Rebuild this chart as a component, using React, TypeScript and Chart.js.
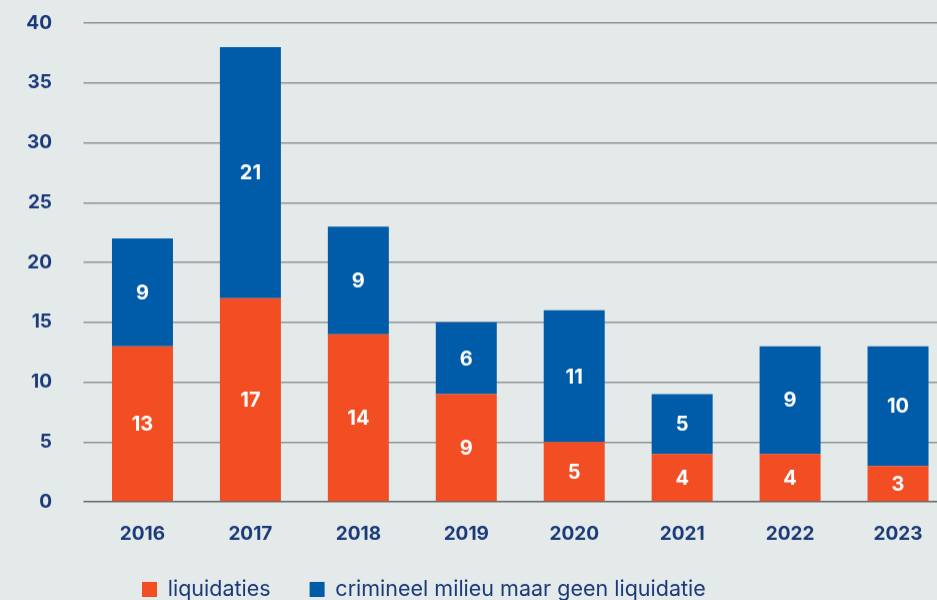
import React, { useEffect, useRef } from "react";
import { Chart, registerables } from "chart.js";

Chart.register(...registerables);

const categories = ["2016", "2017", "2018", "2019", "2020", "2021", "2022", "2023"];
const liquidaties = [13, 17, 14, 9, 5, 4, 4, 3];
const crimineelMilieu = [9, 21, 9, 6, 11, 5, 9, 10];
const seriesNames = ["liquidaties", "crimineel milieu maar geen liquidatie"];
const yTicks = [0, 5, 10, 15, 20, 25, 30, 35, 40];

const ORANGE = "#f24d23";
const BLUE = "#005ca9";
const NAVY = "#1b3a7a";
const BG = "#e4eaea";
const FONT = "Inter, 'Noto Sans', sans-serif";
const LEGEND_PAD = 39;
const LEGEND_FONT = 21.5;

const valueLabels = {
  id: "valueLabels",
  afterDatasetsDraw(chart: any) {
    const ctx = chart.ctx;
    ctx.save();
    ctx.fillStyle = "#ffffff";
    ctx.font = `700 20px ${FONT}`;
    ctx.textAlign = "center";
    ctx.textBaseline = "middle";
    chart.data.datasets.forEach((ds: any, di: number) => {
      const meta = chart.getDatasetMeta(di);
      meta.data.forEach((el: any, i: number) => {
        const { x, y, base } = el.getProps(["x", "y", "base"], true);
        ctx.fillText(String(ds.data[i]), x, (y + base) / 2 + 1);
      });
    });
    ctx.restore();
  },
};

const legendPos = {
  id: "legendPos",
  afterLayout(chart: any) {
    const lg = chart.legend;
    if (!lg) return;
    const w = lg.width;
    const h = lg.height;
    lg.left = 142 - LEGEND_PAD;
    lg.right = lg.left + w;
    lg.top = 581 - (LEGEND_FONT - 15) / 2 - LEGEND_PAD;
    lg.bottom = lg.top + h;
  },
};

export default function App() {
  const ref = useRef<HTMLCanvasElement | null>(null);

  useEffect(() => {
    if (!ref.current) return;
    const chart = new Chart(ref.current, {
      type: "bar",
      data: {
        labels: categories,
        datasets: [
          {
            label: seriesNames[0],
            data: liquidaties,
            backgroundColor: ORANGE,
            borderWidth: 0,
            barPercentage: 0.565,
            categoryPercentage: 1,
          },
          {
            label: seriesNames[1],
            data: crimineelMilieu,
            backgroundColor: BLUE,
            borderWidth: 0,
            barPercentage: 0.565,
            categoryPercentage: 1,
          },
        ],
      },
      options: {
        animation: false,
        responsive: true,
        maintainAspectRatio: false,
        events: [],
        layout: { padding: { top: 23, left: 0, right: 0, bottom: 0 } },
        plugins: {
          tooltip: { enabled: false },
          legend: {
            position: "bottom",
            align: "start",
            labels: {
              boxWidth: 15,
              boxHeight: 15,
              padding: LEGEND_PAD,
              color: NAVY,
              font: { family: FONT, size: LEGEND_FONT, weight: 400 },
            },
          },
        },
        scales: {
          x: {
            stacked: true,
            offset: true,
            grid: { display: false },
            border: { display: false },
            ticks: {
              color: NAVY,
              font: { family: FONT, size: 19, weight: 700 },
              padding: 13,
              maxRotation: 0,
            },
            afterFit: (s: any) => {
              s.height = 60;
              s.paddingLeft = 0;
              s.paddingRight = 0;
            },
          },
          y: {
            stacked: true,
            min: 0,
            max: 40,
            afterBuildTicks: (s: any) => {
              s.ticks = yTicks.map((v) => ({ value: v }));
            },
            grid: {
              color: (c: any) => (c.tick && c.tick.value === 0 ? "#5f6565" : "#8f9393"),
              lineWidth: 1.5,
              drawTicks: true,
              tickLength: 5,
              tickColor: (c: any) => (c.tick && c.tick.value === 0 ? "#5f6565" : "#8f9393"),
            },
            border: { display: false },
            ticks: {
              color: NAVY,
              font: { family: FONT, size: 19, weight: 700 },
              padding: 31.5,
            },
            afterFit: (s: any) => {
              s.width = 88.5;
              s.paddingTop = 12;
              s.paddingBottom = 0;
            },
          },
        },
      },
      plugins: [valueLabels, legendPos],
    });
    return () => chart.destroy();
  }, []);

  const canvasHeight = 501 + 60 + LEGEND_FONT + LEGEND_PAD + 10;

  return (
    <div
      style={{
        position: "fixed",
        left: 0,
        top: 0,
        width: 937,
        height: 600,
        overflow: "hidden",
        background: BG,
      }}
    >
      <div style={{ position: "absolute", left: 0, top: 0, width: 952, height: canvasHeight }}>
        <canvas ref={ref} />
      </div>
    </div>
  );
}
